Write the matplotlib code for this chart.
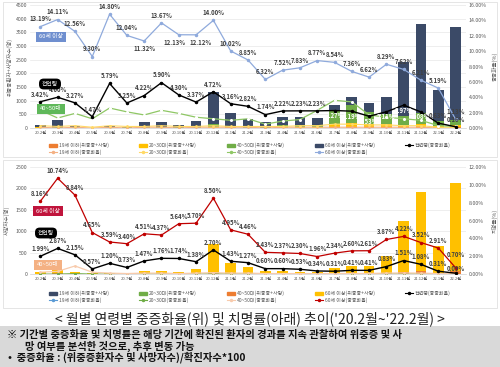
import matplotlib
matplotlib.use('Agg')
import matplotlib.pyplot as plt
from matplotlib.patches import Rectangle, Patch
from matplotlib.lines import Line2D
import numpy as np

plt.rcParams['font.family'] = ['Noto Sans CJK KR', 'DejaVu Sans']

months = ['20.2월', '20.3월', '20.4월', '20.5월', '20.6월', '20.7월', '20.8월', '20.9월',
          '20.10월', '20.11월', '20.12월', '21.1월', '21.2월', '21.3월', '21.4월', '21.5월',
          '21.6월', '21.7월', '21.8월', '21.9월', '21.10월', '21.11월', '21.12월', '22.1월', '22.2월']

# top chart: severe cases + deaths (count) by age group
sev_u19 = [10, 5, 5, 2, 5, 5, 5, 5, 5, 5, 10, 5, 5, 5, 5, 5, 5, 20, 30, 20, 20, 20, 20, 10, 20]
sev_2030 = [10, 5, 10, 2, 10, 5, 10, 10, 5, 10, 30, 15, 10, 10, 20, 20, 20, 120, 150, 120, 120, 100, 110, 60, 80]
sev_4050 = [20, 25, 10, 3, 10, 10, 25, 25, 15, 35, 120, 65, 40, 40, 80, 80, 100, 520, 650, 430, 380, 330, 420, 170, 200]
sev_60 = [70, 240, 40, 10, 45, 30, 190, 180, 85, 210, 1150, 480, 280, 150, 300, 290, 230, 180, 300, 350, 600, 1950, 3250, 1150, 3400]

# top chart: severity rate (%)
rate_u19 = [0.1, 0.0, 0.1, 0.0, 0.1, 0.0, 0.1, 0.1, 0.0, 0.1, 0.1, 0.1, 0.1, 0.0, 0.1, 0.1, 0.1, 0.1, 0.1, 0.1, 0.1, 0.1, 0.1, 0.0, 0.0]
rate_2030 = [0.3, 0.2, 0.3, 0.1, 0.3, 0.2, 0.2, 0.3, 0.2, 0.2, 0.3, 0.2, 0.2, 0.2, 0.2, 0.3, 0.3, 0.5, 0.5, 0.4, 0.4, 0.3, 0.3, 0.1, 0.1]
rate_4050 = [2.3, 1.3, 1.9, 1.2, 2.6, 2.1, 1.7, 2.3, 1.9, 1.4, 1.2, 1.0, 1.2, 0.5, 0.9, 1.1, 2.3, 3.6, 3.4, 1.7, 1.4, 1.2, 1.0, 0.3, 0.2]
rate_60 = [13.19, 14.11, 12.56, 9.30, 14.80, 12.04, 11.32, 13.67, 12.13, 12.12, 14.00, 10.02, 8.85,
           6.32, 7.52, 7.83, 8.77, 8.54, 7.36, 6.62, 8.29, 7.62, 6.21, 5.19, 1.13]
rate_all = [3.42, 4.00, 3.27, 1.47, 5.79, 3.25, 4.22, 5.90, 4.30, 3.37, 4.72, 3.16, 2.82,
            1.74, 2.22, 2.23, 2.23, 2.27, 2.19, 1.53, 2.11, 2.97, 2.08, 0.63, 0.16]

# bottom chart: deaths (count) by age group
dth_u19 = [0, 0, 0, 0, 0, 0, 0, 0, 0, 0, 0, 0, 0, 0, 0, 0, 0, 0, 0, 0, 0, 0, 2, 0, 2]
dth_2030 = [0, 2, 2, 0, 0, 0, 1, 1, 0, 1, 3, 1, 1, 0, 1, 1, 1, 2, 3, 3, 3, 5, 8, 3, 8]
dth_4050 = [5, 10, 8, 2, 2, 2, 5, 5, 3, 8, 25, 10, 6, 4, 5, 5, 5, 15, 20, 20, 30, 50, 60, 30, 60]
dth_60 = [40, 80, 30, 10, 20, 15, 70, 60, 40, 100, 680, 240, 150, 60, 70, 50, 40, 120, 170, 170, 390, 1180, 1850, 620, 2050]

# bottom chart: fatality rate (%)
fat_u19 = [0.0] * 25
fat_2030 = [0.0, 0.0, 0.05, 0.0, 0.0, 0.0, 0.0, 0.0, 0.0, 0.0, 0.02, 0.01, 0.0, 0.0, 0.0, 0.0, 0.0, 0.0, 0.01, 0.01, 0.01, 0.01, 0.01, 0.0, 0.0]
fat_4050 = [0.2, 0.3, 0.9, 0.2, 0.1, 0.05, 0.1, 0.1, 0.05, 0.1, 0.15, 0.1, 0.1, 0.05, 0.05, 0.05, 0.04, 0.05, 0.06, 0.06, 0.1, 0.12, 0.1, 0.05, 0.02]
fat_60 = [8.16, 10.74, 8.84, 4.65, 3.59, 3.40, 4.51, 4.37, 5.64, 5.70, 8.50, 4.95, 4.46,
          2.43, 2.37, 2.30, 1.96, 2.34, 2.60, 2.61, 3.87, 4.22, 3.52, 2.91, 0.70]
fat_all = [1.99, 2.87, 2.15, 0.57, 1.20, 0.73, 1.47, 1.76, 1.74, 1.38, 2.70, 1.43, 1.27,
           0.60, 0.60, 0.53, 0.34, 0.31, 0.41, 0.41, 0.83, 1.51, 1.08, 0.31, 0.09]

W, H = 500, 367
fig = plt.figure(figsize=(W / 100, H / 100), dpi=100)

def px(x, y):
    return x / W, 1 - y / H

# panel backgrounds
fig.patches.append(Rectangle(px(3, 157), 494 / W, 155 / H, transform=fig.transFigure,
                             facecolor='white', edgecolor='#e0e0e0', lw=0.6, zorder=-5))
fig.patches.append(Rectangle(px(3, 308), 494 / W, 148 / H, transform=fig.transFigure,
                             facecolor='white', edgecolor='#e0e0e0', lw=0.6, zorder=-5))
fig.patches.append(Rectangle(px(0, 367), 1, 41 / H, transform=fig.transFigure,
                             facecolor='#d9d9d9', edgecolor='none', zorder=-5))

x = np.arange(len(months))
tick_c = '#595959'
lab_c = '#404040'
lab_fs = 4.3


def setup(ax, ax2, ymax, ystep, rmax):
    ax.set_xlim(-0.6, 24.6)
    ax.set_ylim(0, ymax)
    ax.set_yticks(np.arange(0, ymax + 1, ystep))
    ax2.set_ylim(0, rmax)
    ax2.set_yticks(np.arange(0, rmax + 0.1, 2))
    ax2.set_yticklabels([f'{v:.2f}%' for v in np.arange(0, rmax + 0.1, 2)])
    ax.set_xticks(x)
    ax.set_xticklabels(months)
    ax.grid(axis='y', color='#e8e8e8', lw=0.5)
    ax.set_axisbelow(True)
    for a in (ax, ax2):
        for s in a.spines.values():
            s.set_visible(False)
        a.tick_params(length=0, labelsize=3.8, colors=tick_c, pad=2)
    ax.tick_params(axis='x', labelsize=3.0, pad=2)
    ax.spines['bottom'].set_visible(True)
    ax.spines['bottom'].set_color('#d0d0d0')
    ax.spines['bottom'].set_linewidth(0.5)


def stack(ax, parts, colors):
    bottom = np.zeros(len(x))
    for vals, c in zip(parts, colors):
        ax.bar(x, vals, 0.62, bottom=bottom, color=c, zorder=2)
        bottom += np.array(vals)


def labels(ax, vals, colors=None, offs=None):
    # offs: {index: (dx, dy)} in points; negative dy puts the label below the point
    for i, v in enumerate(vals):
        c = colors[i] if colors else lab_c
        dx, dy = offs.get(i, (0, 3)) if offs else (0, 3)
        ax.annotate(f'{v:.2f}%', (i, v), xytext=(dx, dy), textcoords='offset points',
                    ha='center', va='bottom' if dy >= 0 else 'top',
                    fontsize=lab_fs, fontweight='bold', color=c)


# ---------------- top chart ----------------
ax1 = fig.add_axes([30 / W, 1 - 128 / H, 436 / W, 123 / H])
ax1b = ax1.twinx()
setup(ax1, ax1b, 4500, 500, 16)
stack(ax1, [sev_u19, sev_2030, sev_4050, sev_60], ['#ed7d31', '#ffc000', '#70ad47', '#3b4a67'])
ax1b.plot(x, rate_u19, color='#f4b183', lw=0.8, marker='o', ms=1)
ax1b.plot(x, rate_2030, color='#ffd966', lw=0.8, marker='o', ms=1)
ax1b.plot(x, rate_4050, color='#8fc765', lw=0.9, marker='o', ms=1.2, mfc='white', mec='white')
ax1b.plot(x, rate_60, color='#8faadc', lw=0.9, marker='o', ms=1.5)
ax1b.plot(x, rate_all, color='black', lw=1.0, marker='o', ms=1.5)
labels(ax1b, rate_60, offs={6: (0, -3), 8: (-3, -3), 9: (3, -3)})
all_c = [lab_c] * 17 + ['white'] * 6 + [lab_c] * 2
all_o = {i: (0, -1) for i in range(17, 23)}
labels(ax1b, rate_all, colors=all_c, offs=all_o)
ax1.set_ylabel('위중증환자+사망자수(명)', fontsize=4, color=tick_c, labelpad=2)
ax1b.set_ylabel('중증화율(%)', fontsize=4, color=tick_c, labelpad=3)

# ---------------- bottom chart ----------------
ax2 = fig.add_axes([30 / W, 1 - 274 / H, 436 / W, 107 / H])
ax2b = ax2.twinx()
setup(ax2, ax2b, 2500, 500, 12)
stack(ax2, [dth_u19, dth_2030, dth_4050, dth_60], ['#3b4a67', '#70ad47', '#ed7d31', '#ffc000'])
ax2b.plot(x, fat_u19, color='#5b9bd5', lw=0.7, marker='o', ms=1)
ax2b.plot(x, fat_2030, color='#70ad47', lw=0.7, marker='o', ms=1)
ax2b.plot(x, fat_4050, color='#f8cbad', lw=0.9, marker='o', ms=1)
ax2b.plot(x, fat_60, color='#c00000', lw=0.9, marker='o', ms=1.5)
ax2b.plot(x, fat_all, color='black', lw=1.0, marker='o', ms=1.5)
labels(ax2b, fat_60, offs={24: (0, 7)})
labels(ax2b, fat_all, offs={24: (0, 1)})
ax2.set_ylabel('사망자수(명)', fontsize=4, color=tick_c, labelpad=4)
ax2b.set_ylabel('치명률(%)', fontsize=4, color=tick_c, labelpad=3)

# badges
def badge(xp, yp, text, fc, tc='white', style='square,pad=0.5'):
    fx, fy = px(xp, yp)
    fig.text(fx, fy, text, fontsize=4.2, color=tc, ha='center', va='center',
             bbox=dict(boxstyle=style, fc=fc, ec='none'))

badge(51, 37, '60세 이상', '#6f8fcf')
badge(50, 84, '전연령', 'black', style='round,pad=0.5,rounding_size=0.8')
badge(51, 109, '40~50대', '#5fb85a')
badge(48, 211, '60세 이상', '#c0143c')
badge(46, 233, '전연령', 'black', style='round,pad=0.5,rounding_size=0.8')
badge(48, 265, '40~50대', '#f4b183')

# legends
def legend(handles, labels, ypix):
    order = [0, 5, 1, 6, 2, 7, 3, 8, 4]
    fig.legend([handles[k] for k in order], [labels[k] for k in order],
               loc='center', bbox_to_anchor=(px(250, ypix)), ncol=5, frameon=False,
               fontsize=3.6, handlelength=1.6, columnspacing=6, labelspacing=0.3,
               handletextpad=0.4, labelcolor=tick_c)

groups = ['19세 이하', '20~30대', '40~50대', '60세 이상']
top_bar_c = ['#ed7d31', '#ffc000', '#70ad47', '#3b4a67']
top_line_c = ['#f4b183', '#ffd966', '#8fc765', '#8faadc']
h = [Patch(color=c) for c in top_bar_c] + [Line2D([], [], color='black', marker='o', ms=1.5, lw=0.8)] \
    + [Line2D([], [], color=c, marker='o', ms=1.5, lw=0.8) for c in top_line_c]
l = [g + '(위중증+사망)' for g in groups] + ['전연령(중증화율)'] + [g + '(중증화율)' for g in groups]
legend(h, l, 149)

bot_bar_c = ['#3b4a67', '#70ad47', '#ed7d31', '#ffc000']
bot_line_c = ['#5b9bd5', '#70ad47', '#f8cbad', '#c00000']
h = [Patch(color=c) for c in bot_bar_c] + [Line2D([], [], color='black', marker='o', ms=1.5, lw=0.8)] \
    + [Line2D([], [], color=c, marker='o', ms=1.5, lw=0.8) for c in bot_line_c]
legend(h, l, 297)

# caption and note
fig.text(*px(250, 319), "< 월별 연령별 중증화율(위) 및 치명률(아래) 추이('20.2월~'22.2월) >",
         ha='center', va='center', fontsize=10, color='#222222')
note_fs = 7.4
fig.text(*px(7, 335), '※ 기간별 중증화율 및 치명률은 해당 기간에 확진된 환자의 경과를 지속 관찰하여 위중증 및 사',
         ha='left', va='center', fontsize=note_fs, fontweight='bold', color='#111111')
fig.text(*px(25, 346), '망 여부를 분석한 것으로, 추후 변동 가능',
         ha='left', va='center', fontsize=note_fs, fontweight='bold', color='#111111')
fig.text(*px(8, 357), '•  중증화율 : (위중증환자수 및 사망자수)/확진자수*100',
         ha='left', va='center', fontsize=note_fs, fontweight='bold', color='#111111')

fig.savefig('out.png', dpi=100)
